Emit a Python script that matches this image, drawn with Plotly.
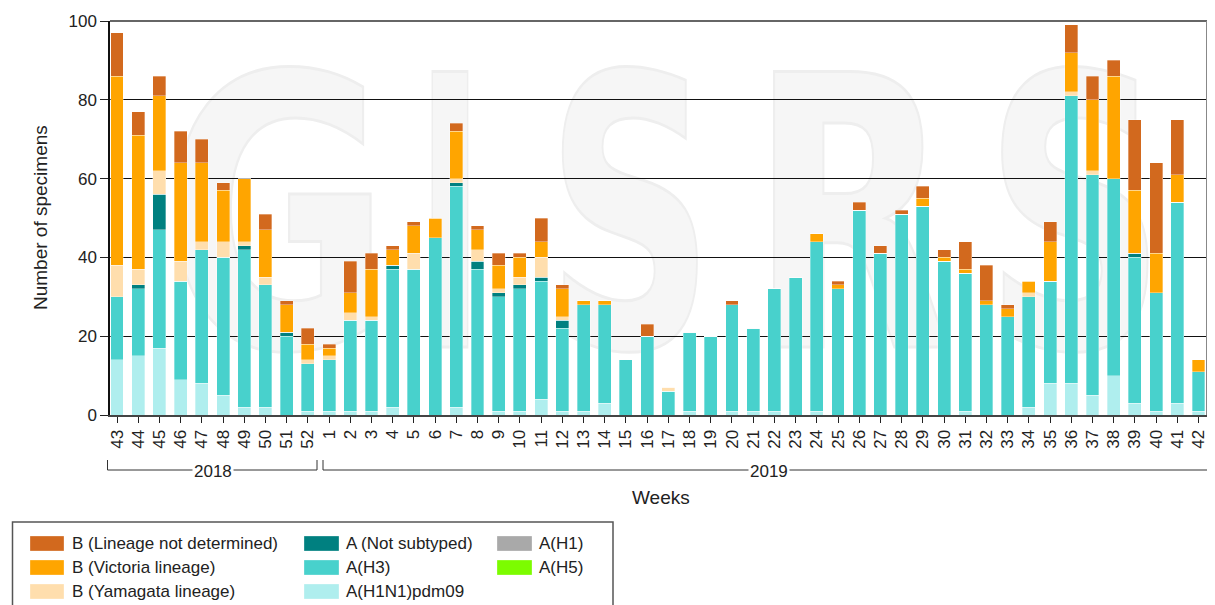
import base64
import plotly.graph_objects as go

# ---------------- data ----------------
weeks = ["43", "44", "45", "46", "47", "48", "49", "50", "51", "52"] + [str(w) for w in range(1, 43)]

a_h1 = [0] * 52
a_h5 = [0] * 52
a_h1n1pdm09 = [14, 15, 17, 9, 8, 5, 2, 2, 0, 1,
               1, 1, 1, 2, 0, 0, 2, 0, 1, 1,
               4, 1, 1, 3, 0, 0, 0, 1, 0, 1,
               1, 1, 0, 1, 0, 0, 0, 0, 0, 0,
               1, 0, 0, 2, 8, 8, 5, 10, 3, 1,
               3, 1]
a_h3 = [16, 17, 30, 25, 34, 35, 40, 31, 20, 12,
        13, 23, 23, 35, 37, 45, 56, 37, 29, 31,
        30, 21, 27, 25, 14, 20, 6, 20, 20, 27,
        21, 31, 35, 43, 32, 52, 41, 51, 53, 39,
        35, 28, 25, 28, 26, 73, 56, 50, 37, 30,
        51, 10]
a_not_subtyped = [0, 1, 9, 0, 0, 0, 1, 0, 1, 0,
                  0, 0, 0, 1, 0, 0, 1, 2, 1, 1,
                  1, 2, 0, 0, 0, 0, 0, 0, 0, 0,
                  0, 0, 0, 0, 0, 0, 0, 0, 0, 0,
                  0, 0, 0, 0, 0, 0, 0, 0, 1, 0,
                  0, 0]
b_yamagata = [8, 4, 6, 5, 2, 4, 1, 2, 0, 1,
              1, 2, 1, 0, 4, 0, 1, 3, 1, 2,
              5, 1, 0, 0, 0, 0, 1, 0, 0, 0,
              0, 0, 0, 0, 0, 0, 0, 0, 0, 0,
              0, 0, 0, 1, 0, 1, 1, 0, 0, 0,
              0, 0]
b_victoria = [48, 34, 19, 25, 20, 13, 16, 12, 7, 4,
              2, 5, 12, 4, 7, 5, 12, 5, 6, 5,
              4, 7, 1, 1, 0, 0, 0, 0, 0, 0,
              0, 0, 0, 2, 1, 0, 0, 0, 2, 1,
              1, 1, 2, 3, 10, 10, 18, 26, 16, 10,
              7, 3]
b_not_determined = [11, 6, 5, 8, 6, 2, 0, 4, 1, 4,
                    1, 8, 4, 1, 1, 0, 2, 1, 3, 1,
                    6, 1, 0, 0, 0, 3, 0, 0, 0, 1,
                    0, 0, 0, 0, 1, 2, 2, 1, 3, 2,
                    7, 9, 1, 0, 5, 7, 6, 4, 18, 23,
                    14, 0]

years = ["2018", "2019"]
yticks = [0, 20, 40, 60, 80, 100]

# stack order bottom -> top
series = [
    ("A(H1)", a_h1, "#A9A9A9"),
    ("A(H1N1)pdm09", a_h1n1pdm09, "#AFEEEE"),
    ("A(H3)", a_h3, "#48D1CC"),
    ("A (Not subtyped)", a_not_subtyped, "#008080"),
    ("A(H5)", a_h5, "#7CFC00"),
    ("B (Yamagata lineage)", b_yamagata, "#FFDEAD"),
    ("B (Victoria lineage)", b_victoria, "#FFA500"),
    ("B (Lineage not determined)", b_not_determined, "#D2691E"),
]
colors = {n: c for n, _, c in series}

legend_cols = [
    ["B (Lineage not determined)", "B (Victoria lineage)", "B (Yamagata lineage)"],
    ["A (Not subtyped)", "A(H3)", "A(H1N1)pdm09"],
    ["A(H1)", "A(H5)"],
]

# ---------------- layout geometry (window pixels) ----------------
WIN_W, WIN_H = 1215, 605
OFF = 8  # page body margin: figure origin sits at (8, 8) in the window
FW, FH = WIN_W - 2 * OFF, WIN_H - OFF   # figure size that fits in the window
L, R, T, B = 110, 1207, 21, 415          # plot area in window pixels
W, H = R - L, B - T


def px(x):
    return (x - L) / W


def py(y):
    return (B - y) / H


FONT = "Liberation Sans, Arial, sans-serif"
TXT = "#222222"

xpos = list(range(len(weeks)))

fig = go.Figure()
for name, vals, col in series:
    fig.add_trace(go.Bar(
        x=xpos, y=vals, name=name,
        marker=dict(color=col, line=dict(color="rgba(255,255,255,0.55)", width=0.6)),
        showlegend=False,
    ))

# ---------------- watermark (SVG image below traces) ----------------
letters = [("G", 163, 228), ("I", 415, 70), ("S", 546, 168), ("R", 750, 202), ("S", 984, 182)]
svg_parts = ['<svg xmlns="http://www.w3.org/2000/svg" width="1215" height="605" viewBox="0 0 1215 605">']
for ch, x0, w in letters:
    svg_parts.append(
        f'<text x="{x0}" y="347" font-family="DejaVu Sans" font-weight="bold" font-size="378" '
        f'textLength="{w}" lengthAdjust="spacingAndGlyphs" fill="#f6f6f6" stroke="#eeeeee" '
        f'stroke-width="3">{ch}</text>')
svg_parts.append('</svg>')
svg = "".join(svg_parts)
src = "data:image/svg+xml;base64," + base64.b64encode(svg.encode()).decode()

images = [dict(source=src, xref="paper", yref="paper", x=px(0), y=py(0),
               sizex=WIN_W / W, sizey=WIN_H / H, xanchor="left", yanchor="top",
               sizing="stretch", layer="below")]

shapes = []
annotations = []

# top and right frame
shapes.append(dict(type="line", xref="paper", yref="paper", x0=0, x1=1, y0=1, y1=1,
                   line=dict(color="#666666", width=2)))
shapes.append(dict(type="line", xref="paper", yref="paper", x0=1, x1=1, y0=0, y1=1,
                   line=dict(color="#888888", width=2)))

# year brackets
brackets = [(107.5, 317, 213), (323, 1216, 769)]
for (x0, x1, xc), yr in zip(brackets, years):
    shapes.append(dict(type="line", xref="paper", yref="paper", x0=px(x0), x1=px(x1),
                       y0=py(470), y1=py(470), line=dict(color="#333333", width=1)))
    shapes.append(dict(type="line", xref="paper", yref="paper", x0=px(x0), x1=px(x0),
                       y0=py(460), y1=py(470), line=dict(color="#333333", width=1)))
    if x1 < WIN_W:
        shapes.append(dict(type="line", xref="paper", yref="paper", x0=px(x1), x1=px(x1),
                           y0=py(460), y1=py(470), line=dict(color="#333333", width=1)))
    annotations.append(dict(text=yr, xref="paper", yref="paper", x=px(xc), y=py(471),
                            xanchor="center", yanchor="middle", showarrow=False,
                            bgcolor="white", borderpad=1,
                            font=dict(family=FONT, size=17, color=TXT)))

# axis titles
annotations.append(dict(text="Weeks", xref="paper", yref="paper", x=px(661), y=py(498),
                        xanchor="center", yanchor="middle", showarrow=False,
                        font=dict(family=FONT, size=19, color=TXT)))
annotations.append(dict(text="Number of specimens", xref="paper", yref="paper", x=px(40), y=py(218),
                        xanchor="center", yanchor="middle", showarrow=False, textangle=-90,
                        font=dict(family=FONT, size=19, color=TXT)))

# custom legend
shapes.append(dict(type="rect", xref="paper", yref="paper", x0=px(12.5), x1=px(613),
                   y0=py(522), y1=py(640), line=dict(color="#555555", width=1.5),
                   fillcolor="rgba(0,0,0,0)"))
col_x = [(30, 64, 70), (304, 339, 344), (497, 532, 537)]
row_y = [543.5, 567.5, 591.5]
for (sx0, sx1, tx), names in zip(col_x, legend_cols):
    for yc, nm in zip(row_y, names):
        shapes.append(dict(type="rect", xref="paper", yref="paper", x0=px(sx0), x1=px(sx1),
                           y0=py(yc + 7.5), y1=py(yc - 7.5), fillcolor=colors[nm],
                           line=dict(color="rgba(255,255,255,0.6)", width=0.5)))
        annotations.append(dict(text=nm, xref="paper", yref="paper", x=px(tx), y=py(yc),
                                xanchor="left", yanchor="middle", showarrow=False,
                                font=dict(family=FONT, size=17, color=TXT)))

fig.update_layout(
    width=FW, height=FH, autosize=False,
    margin=dict(l=L - OFF, r=max(0, FW - (R - OFF)), t=T - OFF, b=FH - (B - OFF), pad=0),
    barmode="stack", bargap=0.39,
    paper_bgcolor="white", plot_bgcolor="rgba(0,0,0,0)",
    showlegend=False,
    images=images, shapes=shapes, annotations=annotations,
    xaxis=dict(
        range=[-0.33, 51.4], tickmode="array", tickvals=xpos, ticktext=weeks,
        tickangle=-90, ticks="outside", ticklen=6, tickcolor="#222222", tickwidth=1,
        ticklabeloverflow="allow",
        showline=True, linecolor="#444444", linewidth=2, showgrid=False, zeroline=False,
        tickfont=dict(family=FONT, size=17, color=TXT), automargin=False,
    ),
    yaxis=dict(
        range=[0, 100], tickmode="array", tickvals=yticks,
        ticks="outside", ticklen=8, tickcolor="#222222", tickwidth=1,
        showline=True, linecolor="#111111", linewidth=1.5,
        showgrid=True, gridcolor="#111111", gridwidth=1, zeroline=False,
        tickfont=dict(family=FONT, size=17, color=TXT), automargin=False,
    ),
)

fig.write_html("out.html")
